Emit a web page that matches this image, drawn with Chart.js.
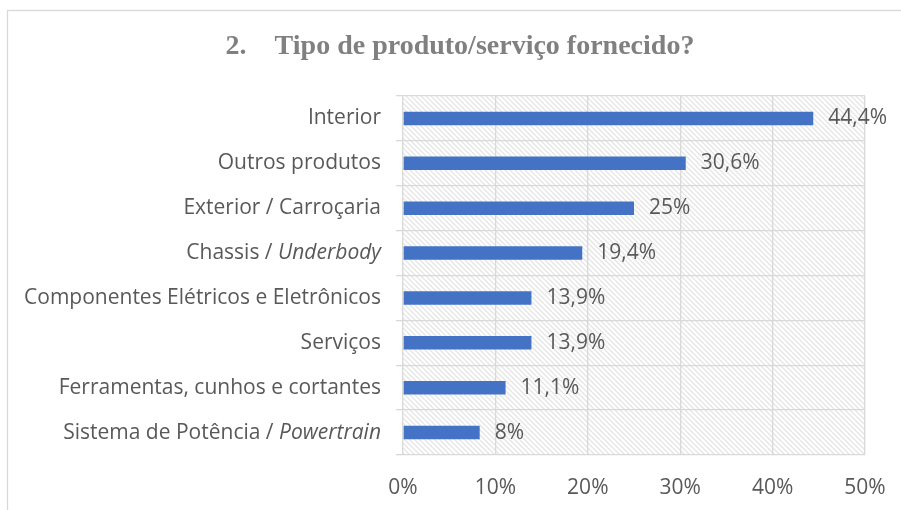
<!DOCTYPE html>
<html>
<head>
<meta charset="utf-8">
<script src="https://cdn.jsdelivr.net/npm/chart.js@4.4.1/dist/chart.umd.min.js"></script>
<style>
  html, body { margin: 0; padding: 0; background: #fff; }
  #wrap { width: 901px; height: 510px; position: relative; }
</style>
</head>
<body>
<div id="wrap"><canvas id="chart"></canvas></div>
<script>
// Chart data
const title = '2.\u00a0\u00a0\u00a0\u00a0Tipo de produto/serviço fornecido?';
const categories = [
  'Interior',
  'Outros produtos',
  'Exterior / Carroçaria',
  'Chassis / Underbody',
  'Componentes Elétricos e Eletrônicos',
  'Serviços',
  'Ferramentas, cunhos e cortantes',
  'Sistema de Potência / Powertrain'
];
const italicWords = ['Underbody', 'Powertrain'];
const values = [44.4, 30.6, 25, 19.4, 13.9, 13.9, 11.1, 8.3];
const valueLabels = ['44,4%', '30,6%', '25%', '19,4%', '13,9%', '13,9%', '11,1%', '8%'];
const xTicks = [0, 10, 20, 30, 40, 50];

const FONT = '"Open Sans", "Noto Sans", sans-serif';
const SIZE = 21;
const TEXT = '#595959';
const GRID = '#d9d9d9';

// Diagonal hatch used for the plot background
function makeHatch() {
  const c = document.createElement('canvas');
  c.width = 5; c.height = 5;
  const g = c.getContext('2d');
  g.fillStyle = '#ffffff';
  g.fillRect(0, 0, 5, 5);
  g.strokeStyle = '#e6e6e6';
  g.lineWidth = 1.4;
  g.beginPath();
  g.moveTo(-1, -1); g.lineTo(6, 6);
  g.moveTo(-4, 1); g.lineTo(1, 6);
  g.moveTo(1, -4); g.lineTo(6, 1);
  g.stroke();
  return g.createPattern(c, 'repeat');
}

const backgroundPlugin = {
  id: 'background',
  beforeDraw(chart) {
    const ctx = chart.ctx;
    const a = chart.chartArea;
    ctx.save();
    // outer frame (cut off on the right and bottom)
    ctx.strokeStyle = GRID;
    ctx.lineWidth = 1.3;
    ctx.strokeRect(7.5, 10.5, 1200, 1200);
    ctx.fillStyle = makeHatch();
    ctx.fillRect(a.left, a.top, a.right - a.left, a.bottom - a.top);
    // title
    ctx.fillStyle = '#808080';
    ctx.font = 'bold 28px "Liberation Serif", serif';
    ctx.textAlign = 'center';
    ctx.textBaseline = 'middle';
    ctx.fillText(title, 460, 47);
    ctx.restore();
  }
};

const labelPlugin = {
  id: 'labels',
  afterDraw(chart) {
    const ctx = chart.ctx;
    const y = chart.scales.y;
    const meta = chart.getDatasetMeta(0);
    ctx.save();
    ctx.fillStyle = TEXT;
    ctx.textBaseline = 'middle';
    const normal = SIZE + 'px ' + FONT;
    const italic = 'italic ' + SIZE + 'px ' + FONT;
    categories.forEach((cat, i) => {
      const py = y.getPixelForTick(i);
      const right = 381;
      const it = italicWords.find(w => cat.endsWith(w));
      ctx.textAlign = 'left';
      if (it) {
        const head = cat.slice(0, cat.length - it.length);
        ctx.font = italic;
        const wi = ctx.measureText(it).width;
        ctx.font = normal;
        const wh = ctx.measureText(head).width;
        ctx.fillText(head, right - wi - wh, py);
        ctx.font = italic;
        ctx.fillText(it, right - wi, py);
      } else {
        ctx.font = normal;
        const w = ctx.measureText(cat).width;
        ctx.fillText(cat, right - w, py);
      }
      // value label
      const bar = meta.data[i];
      ctx.font = normal;
      ctx.fillText(valueLabels[i], bar.x + 15, bar.y);
    });
    ctx.restore();
  }
};

new Chart(document.getElementById('chart'), {
  type: 'bar',
  data: {
    labels: categories,
    datasets: [{
      data: values,
      backgroundColor: '#4472c4',
      borderWidth: 0,
      categoryPercentage: 1,
      barPercentage: 0.3
    }]
  },
  options: {
    indexAxis: 'y',
    responsive: true,
    maintainAspectRatio: false,
    animation: false,
    layout: { padding: { left: 0, right: 36, top: 96, bottom: 0 } },
    plugins: {
      legend: { display: false },
      tooltip: { enabled: false },
      title: { display: false }
    },
    scales: {
      x: {
        min: 0,
        max: 50,
        afterBuildTicks(scale) { scale.ticks = xTicks.map(v => ({ value: v })); },
        afterFit(scale) {
          scale.height = 55;
          scale.paddingLeft = 0;
          scale.paddingRight = 0;
        },
        grid: { color: GRID, lineWidth: 1.3, drawTicks: false },
        border: { display: false },
        ticks: {
          padding: 20,
          color: TEXT,
          font: { family: FONT, size: SIZE },
          callback: v => v + '%'
        }
      },
      y: {
        afterFit(scale) { scale.width = 403; },
        grid: { color: GRID, lineWidth: 1.3, tickLength: 7 },
        border: { display: false },
        ticks: { color: 'transparent', font: { family: FONT, size: SIZE } }
      }
    }
  },
  plugins: [backgroundPlugin, labelPlugin]
});
</script>
</body>
</html>
